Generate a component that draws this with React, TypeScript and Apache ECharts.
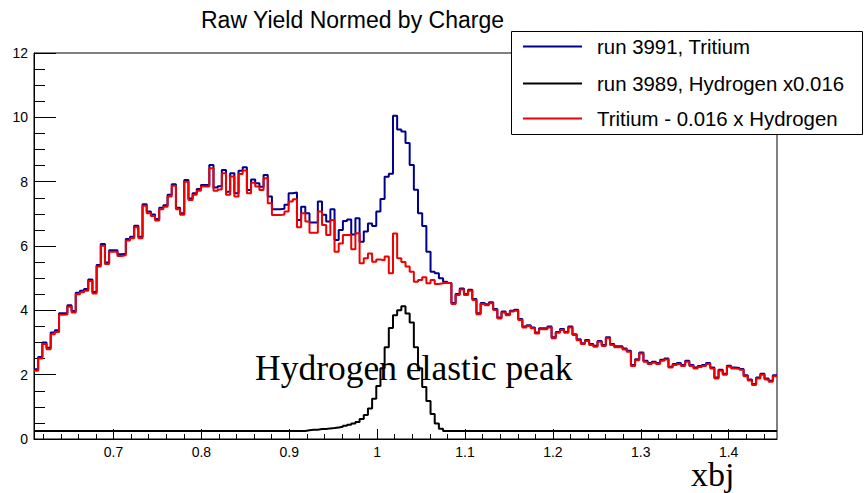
import React, { useEffect, useRef } from "react";
import * as echarts from "echarts";

// Histogram binning (xbj)
const binStart = 0.6095;
const binWidth = 0.00475;

// run 3991, Tritium
const tritium = [
  2.17, 2.55, 3.0, 2.84, 3.31, 3.38, 3.91, 3.92, 4.16, 3.98,
  4.55, 4.61, 4.66, 4.96, 4.57, 5.41, 6.06, 5.49, 5.87, 5.87,
  5.74, 5.76, 6.22, 6.29, 6.63, 6.29, 7.3, 7.07, 6.98, 6.84,
  7.19, 7.27, 7.59, 7.92, 7.19, 7.02, 8.05, 7.48, 7.64, 7.77,
  7.9, 7.9, 8.52, 7.82, 7.86, 8.36, 7.69, 8.26, 7.64, 8.34,
  8.45, 7.74, 8.07, 7.95, 7.84, 8.21, 7.54, 7.14, 7.14, 7.16,
  7.28, 7.64, 7.66, 6.81, 7.22, 7.02, 6.73, 6.73, 7.38, 6.97,
  6.76, 7.14, 6.19, 6.5, 6.78, 6.82, 6.36, 6.86, 6.13, 6.45,
  6.7, 6.62, 7.07, 7.46, 8.15, 8.25, 10.05, 9.62, 9.56, 9.2,
  8.52, 7.75, 7.02, 6.62, 5.82, 5.2, 5.15, 5.0, 4.89, 4.85,
  4.23, 4.51, 4.68, 4.51, 4.64, 4.35, 3.91, 4.23, 4.19, 4.25,
  4.04, 3.78, 3.96, 3.88, 3.99, 4.02, 3.73, 3.5, 3.54, 3.47,
  3.31, 3.44, 3.44, 3.5, 3.16, 3.33, 3.42, 3.33, 3.5, 3.26,
  3.1, 2.98, 3.08, 2.95, 2.9, 3.05, 2.92, 3.16, 2.95, 2.88,
  2.88, 2.81, 2.74, 2.3, 2.48, 2.69, 2.43, 2.36, 2.4, 2.36,
  2.46, 2.5, 2.25, 2.33, 2.36, 2.3, 2.43, 2.3, 2.22, 2.27,
  2.3, 2.36, 2.22, 1.91, 2.15, 2.03, 2.28, 2.22, 2.21, 2.18,
  1.98, 1.85, 1.71, 1.91, 2.03, 1.88, 1.81, 1.98,
];

// run 3989, Hydrogen x0.016
const hydrogenScaled = [
  0.25, 0.25, 0.25, 0.25, 0.25, 0.25, 0.25, 0.25, 0.25, 0.25,
  0.25, 0.25, 0.25, 0.25, 0.25, 0.25, 0.25, 0.25, 0.25, 0.25,
  0.25, 0.25, 0.25, 0.25, 0.25, 0.25, 0.25, 0.25, 0.25, 0.25,
  0.25, 0.25, 0.25, 0.25, 0.25, 0.25, 0.25, 0.25, 0.25, 0.25,
  0.25, 0.25, 0.25, 0.25, 0.25, 0.25, 0.25, 0.25, 0.25, 0.25,
  0.25, 0.25, 0.25, 0.25, 0.25, 0.25, 0.25, 0.25, 0.25, 0.25,
  0.25, 0.25, 0.25, 0.25, 0.25, 0.27, 0.29, 0.29, 0.31, 0.31,
  0.33, 0.34, 0.36, 0.38, 0.41, 0.44, 0.48, 0.53, 0.62, 0.75,
  0.95, 1.25, 1.65, 2.2, 2.85, 3.45, 3.85, 4.0, 4.13, 3.9,
  3.62, 2.85, 2.2, 1.62, 1.18, 0.78, 0.48, 0.32, 0.25, 0.25,
  0.25, 0.25, 0.25, 0.25, 0.25, 0.25, 0.25, 0.25, 0.25, 0.25,
  0.25, 0.25, 0.25, 0.25, 0.25, 0.25, 0.25, 0.25, 0.25, 0.25,
  0.25, 0.25, 0.25, 0.25, 0.25, 0.25, 0.25, 0.25, 0.25, 0.25,
  0.25, 0.25, 0.25, 0.25, 0.25, 0.25, 0.25, 0.25, 0.25, 0.25,
  0.25, 0.25, 0.25, 0.25, 0.25, 0.25, 0.25, 0.25, 0.25, 0.25,
  0.25, 0.25, 0.25, 0.25, 0.25, 0.25, 0.25, 0.25, 0.25, 0.25,
  0.25, 0.25, 0.25, 0.25, 0.25, 0.25, 0.25, 0.25, 0.25, 0.25,
  0.25, 0.25, 0.25, 0.25, 0.25, 0.25, 0.25, 0.25,
];

// Tritium - 0.016 x Hydrogen
const subtracted = [
  2.12, 2.5, 2.95, 2.79, 3.26, 3.33, 3.86, 3.87, 4.11, 3.93,
  4.5, 4.56, 4.61, 4.91, 4.52, 5.36, 6.01, 5.44, 5.82, 5.82,
  5.69, 5.71, 6.17, 6.24, 6.58, 6.24, 7.25, 7.02, 6.93, 6.79,
  7.14, 7.22, 7.54, 7.87, 7.14, 6.97, 8.0, 7.43, 7.59, 7.72,
  7.85, 7.85, 8.42, 7.72, 7.76, 8.26, 7.59, 8.16, 7.54, 8.24,
  8.35, 7.64, 7.97, 7.85, 7.74, 8.11, 7.33, 6.96, 6.96, 6.98,
  7.07, 7.38, 7.45, 6.58, 7.02, 6.76, 6.41, 6.41, 7.07, 6.65,
  6.34, 6.81, 5.82, 6.08, 6.34, 6.34, 5.9, 6.4, 5.46, 5.62,
  5.77, 5.51, 5.58, 5.56, 5.67, 5.15, 6.39, 5.62, 5.5, 5.36,
  5.2, 4.89, 4.94, 5.03, 4.84, 4.94, 4.82, 4.84, 4.86, 4.84,
  4.2, 4.48, 4.65, 4.48, 4.61, 4.32, 3.88, 4.2, 4.16, 4.22,
  4.01, 3.75, 3.93, 3.85, 3.96, 3.99, 3.7, 3.47, 3.51, 3.44,
  3.28, 3.41, 3.41, 3.47, 3.13, 3.3, 3.39, 3.3, 3.47, 3.23,
  3.07, 2.95, 3.05, 2.92, 2.87, 3.02, 2.89, 3.13, 2.92, 2.85,
  2.85, 2.78, 2.71, 2.27, 2.45, 2.66, 2.4, 2.33, 2.37, 2.33,
  2.43, 2.47, 2.22, 2.3, 2.33, 2.27, 2.4, 2.27, 2.19, 2.24,
  2.27, 2.33, 2.19, 1.88, 2.12, 2.0, 2.25, 2.19, 2.18, 2.15,
  1.95, 1.82, 1.68, 1.88, 2.0, 1.85, 1.78, 1.95,
];

const xMajorTicks = [0.7, 0.8, 0.9, 1.0, 1.1, 1.2, 1.3, 1.4];
const xMinorTicks = [
  0.62, 0.64, 0.66, 0.68, 0.72, 0.74, 0.76, 0.78, 0.82, 0.84, 0.86, 0.88,
  0.92, 0.94, 0.96, 0.98, 1.02, 1.04, 1.06, 1.08, 1.12, 1.14, 1.16, 1.18,
  1.22, 1.24, 1.26, 1.28, 1.32, 1.34, 1.36, 1.38, 1.42, 1.44,
];
const xMin = 0.6095;
const xMax = 1.455;

const seriesNames = [
  "run 3991, Tritium",
  "run 3989, Hydrogen x0.016",
  "Tritium - 0.016 x Hydrogen",
];
const seriesColors = ["#00008f", "#000000", "#f00000"];

const SANS = "'Liberation Sans', Arial, Helvetica, sans-serif";
const SERIF = "'Liberation Serif', 'Times New Roman', serif";

function toSteps(values: number[]) {
  const pts = values.map((v, i) => [binStart + i * binWidth, v]);
  pts.push([binStart + values.length * binWidth, values[values.length - 1]]);
  return pts;
}

export default function App() {
  const ref = useRef<HTMLDivElement>(null);
  useEffect(() => {
    if (!ref.current) return;
    const chart = echarts.init(ref.current, undefined, { renderer: "svg" });
    const datasets = [tritium, hydrogenScaled, subtracted];
    const legendRows = [46.5, 83.5, 118.5];
    chart.setOption({
      animation: false,
      backgroundColor: "#ffffff",
      textStyle: { fontFamily: SANS },
      grid: {
        left: 34,
        right: 89,
        top: 53,
        bottom: 54,
        show: true,
        borderColor: "#000",
        borderWidth: 1,
        backgroundColor: "transparent",
      },
      xAxis: [
        {
          type: "value",
          min: xMin,
          max: xMax,
          axisLine: { show: true, lineStyle: { color: "#000", width: 1 } },
          axisTick: {
            show: true,
            inside: true,
            length: 10,
            customValues: xMajorTicks,
            lineStyle: { color: "#000", width: 1 },
          },
          axisLabel: {
            show: true,
            customValues: xMajorTicks,
            color: "#000",
            fontSize: 14,
            fontFamily: SANS,
            margin: 6,
          },
          splitLine: { show: false },
        },
        {
          type: "value",
          min: xMin,
          max: xMax,
          position: "bottom",
          axisLine: { show: false },
          axisTick: {
            show: true,
            inside: true,
            length: 5,
            customValues: xMinorTicks,
            lineStyle: { color: "#000", width: 1 },
          },
          axisLabel: { show: false },
          splitLine: { show: false },
        },
      ],
      yAxis: {
        type: "value",
        min: 0,
        max: 12,
        interval: 2,
        axisLine: { show: true, lineStyle: { color: "#000", width: 1 } },
        axisTick: {
          show: true,
          inside: true,
          length: 22,
          lineStyle: { color: "#000", width: 1 },
        },
        minorTick: {
          show: true,
          splitNumber: 4,
          length: 11,
          lineStyle: { color: "#000", width: 1 },
        },
        axisLabel: {
          color: "#000",
          fontSize: 14,
          fontFamily: SANS,
          margin: 6,
        },
        splitLine: { show: false },
      },
      series: datasets.map((d, i) => ({
        name: seriesNames[i],
        type: "line",
        step: "end",
        xAxisIndex: 0,
        yAxisIndex: 0,
        data: toSteps(d),
        showSymbol: false,
        symbol: "none",
        lineStyle: { color: seriesColors[i], width: 2 },
        itemStyle: { color: seriesColors[i] },
        z: 2 + i,
        clip: true,
      })),
      graphic: [
        {
          type: "text",
          z: 50,
          x: 201,
          y: 20,
          style: {
            text: "Raw Yield Normed by Charge",
            fill: "#000",
            fontSize: 23,
            fontFamily: SANS,
            verticalAlign: "middle",
            align: "left",
          },
        },
        {
          type: "rect",
          z: 100,
          shape: { x: 511.5, y: 31.5, width: 351, height: 103 },
          style: { fill: "#fff", stroke: "#000", lineWidth: 1 },
        },
        ...legendRows.flatMap((y, i) => [
          {
            type: "line",
            z: 101,
            shape: { x1: 523, y1: y, x2: 582, y2: y },
            style: { stroke: seriesColors[i], lineWidth: 2 },
          },
          {
            type: "text",
            z: 101,
            x: 597,
            y: y,
            style: {
              text: seriesNames[i],
              fill: "#000",
              fontSize: 20.4,
              fontFamily: SANS,
              verticalAlign: "middle",
              align: "left",
            },
          },
        ]),
        {
          type: "text",
          z: 60,
          x: 255,
          y: 367.5,
          style: {
            text: "Hydrogen elastic peak",
            fill: "#000",
            fontSize: 35.5,
            fontFamily: SERIF,
            verticalAlign: "middle",
            align: "left",
          },
        },
        {
          type: "text",
          z: 60,
          x: 691,
          y: 474,
          style: {
            text: "xbj",
            fill: "#000",
            fontSize: 34,
            fontFamily: SERIF,
            verticalAlign: "middle",
            align: "left",
          },
        },
      ],
    });
    return () => chart.dispose();
  }, []);
  return (
    <div
      ref={ref}
      style={{ position: "absolute", left: 0, top: 0, width: 866, height: 493 }}
    />
  );
}
